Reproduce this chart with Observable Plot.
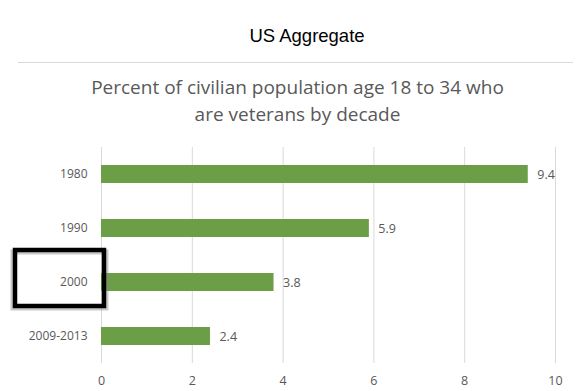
<!DOCTYPE html>
<html>
<head>
<meta charset="utf-8">
<script src="https://cdn.jsdelivr.net/npm/d3@7"></script>
<script src="https://cdn.jsdelivr.net/npm/@observablehq/plot@0.6"></script>
<style>
  html, body { margin: 0; padding: 0; background: #fff; }
  #wrap { position: relative; width: 586px; height: 391px; overflow: hidden; }
  #title { position: absolute; left: 0; width: 614px; top: 25px; text-align: center;
           font-family: "Liberation Sans", Arial, sans-serif; font-size: 18.5px; color: #000; }
  #rule { position: absolute; left: 18px; width: 555px; top: 62px; height: 0; border-top: 1.5px solid #d3dbdd; }
  #subtitle { position: absolute; left: 0; width: 595px; top: 74px; text-align: center;
              font-family: "Open Sans", sans-serif; font-size: 19px; line-height: 27px; color: #595959; }
  #chart { position: absolute; left: 0; top: 135px; }
</style>
</head>
<body>
<div id="wrap">
  <div id="title">US Aggregate</div>
  <div id="rule"></div>
  <div id="subtitle">Percent of civilian population age 18 to 34 who<br>are veterans by decade</div>
  <div id="chart"></div>
</div>
<script>
const decades = ["1980", "1990", "2000", "2009-2013"];
const percents = [9.4, 5.9, 3.8, 2.4];
const xTicks = [0, 2, 4, 6, 8, 10];
const highlighted = ["2000"];

const data = decades.map((d, i) => ({decade: d, value: percents[i]}));

const chart = Plot.plot({
  width: 586,
  height: 256,
  marginLeft: 101,
  marginRight: 31,
  marginTop: 12,
  marginBottom: 28,
  style: {fontFamily: "'Open Sans', sans-serif", fontSize: "12px", color: "#595959", background: "transparent"},
  x: {domain: [0, 10], ticks: xTicks, label: null},
  y: {domain: decades, paddingInner: 0.667, paddingOuter: 0.333, label: null},
  marks: [
    Plot.gridX(xTicks, {stroke: "#d9d9d9", strokeOpacity: 1, strokeWidth: 1}),
    Plot.barX(data, {x: "value", y: "decade", fill: "#6b9e47"}),
    Plot.text(data, {x: "value", y: "decade", text: d => d.value.toFixed(1), textAnchor: "start", dx: 9, fill: "#595959", fontSize: 12.5}),
    Plot.axisX(xTicks, {tickSize: 0, tickPadding: 13, fontSize: 12.5, fill: "#595959"}),
    Plot.axisY({tickSize: 0, tickPadding: 14, fontSize: 12, fill: "#595959"}),
    // highlight box shadow
    Plot.barX(highlighted, {x1: 0, x2: 0, y: d => d, fill: "none", stroke: "#888", strokeOpacity: 0.45, strokeWidth: 5,
      insetLeft: -88, insetRight: -5, insetTop: -21, insetBottom: -17}),
    // highlight box
    Plot.barX(highlighted, {x1: 0, x2: 0, y: d => d, fill: "none", stroke: "#000", strokeWidth: 4.5,
      insetLeft: -86, insetRight: -3, insetTop: -23, insetBottom: -15})
  ]
});
document.getElementById("chart").appendChild(chart);
</script>
</body>
</html>
